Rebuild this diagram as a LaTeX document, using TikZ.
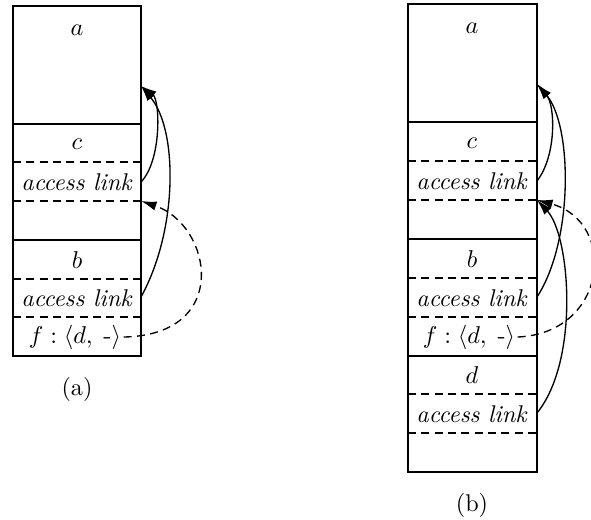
\documentclass[tikz,border=0pt]{standalone}
\usetikzlibrary{arrows.meta}
\begin{document}
\begin{tikzpicture}[x=0.45pt,y=-0.45pt,
  font=\fontsize{10.9}{13}\selectfont,
  wall/.style={line width=0.7pt},
  sep/.style={line width=0.6pt, dash pattern=on 3.6pt off 2.4pt},
  link/.style={line width=0.6pt, -{Latex[length=7pt,width=4.2pt]}},
  dlink/.style={link, dash pattern=on 3.6pt off 2.4pt},
  lab/.style={inner sep=1pt}]
\useasboundingbox (0,0) rectangle (591,519);
% ---------- stack (a) ----------
\draw[wall] (13,6) rectangle (141,356);
\draw[wall] (13,124) -- (141,124);
\draw[wall] (13,240) -- (141,240);
\draw[sep] (13,162) -- (141,162);
\draw[sep] (13,201) -- (141,201);
\draw[sep] (13,279) -- (141,279);
\draw[sep] (13,317) -- (141,317);
\node[lab] (la) at (77,30) {$a$};
\node[lab] (lc) at (77,144) {$c$};
\node[lab] (lcl) at (77,182) {\textit{access link}};
\node[lab] (lb) at (77,260) {$b$};
\node[lab] (lbl) at (77,298) {\textit{access link}};
\node[lab] (lf) at (75,337) {$f:\langle d,\;\textrm{-}\rangle$};
\node[lab] (capa) at (77,389) {(a)};
\coordinate (lcle) at (141,182);
\coordinate (lble) at (141,297);
\coordinate (lta) at (141,86);
\coordinate (ltc) at (141,201);
\draw[link] (lcle) .. controls (162,160) and (160,100) .. (lta);
\draw[link] (lble) .. controls (178,230) and (178,130) .. (lta);
\draw[dlink] (lf.east) .. controls (232,335) and (212,225) .. (ltc);
% ---------- stack (b) ----------
\draw[wall] (408,4) rectangle (537,472);
\draw[wall] (408,122) -- (537,122);
\draw[wall] (408,239) -- (537,239);
\draw[wall] (408,356) -- (537,356);
\draw[sep] (408,161) -- (537,161);
\draw[sep] (408,200) -- (537,200);
\draw[sep] (408,278) -- (537,278);
\draw[sep] (408,317) -- (537,317);
\draw[sep] (408,394) -- (537,394);
\draw[sep] (408,433) -- (537,433);
\node[lab] (ra) at (472,28) {$a$};
\node[lab] (rc) at (472,143) {$c$};
\node[lab] (rcl) at (472,181) {\textit{access link}};
\node[lab] (rb) at (472,259) {$b$};
\node[lab] (rbl) at (472,298) {\textit{access link}};
\node[lab] (rf) at (469,337) {$f:\langle d,\;\textrm{-}\rangle$};
\node[lab] (rd) at (472,375) {$d$};
\node[lab] (rdl) at (472,414) {\textit{access link}};
\node[lab] (capb) at (472,505) {(b)};
\coordinate (rcle) at (537,181);
\coordinate (rble) at (537,297);
\coordinate (rdle) at (537,413);
\coordinate (rta) at (537,84);
\coordinate (rtc) at (537,200);
\draw[link] (rcle) .. controls (557,155) and (555,105) .. (rta);
\draw[link] (rble) .. controls (574,240) and (572,125) .. (rta);
\draw[dlink] (rf.east) .. controls (608,333) and (618,222) .. (rtc);
\draw[link] (rdle) .. controls (580,360) and (570,235) .. (rtc);
\end{tikzpicture}
\end{document}
